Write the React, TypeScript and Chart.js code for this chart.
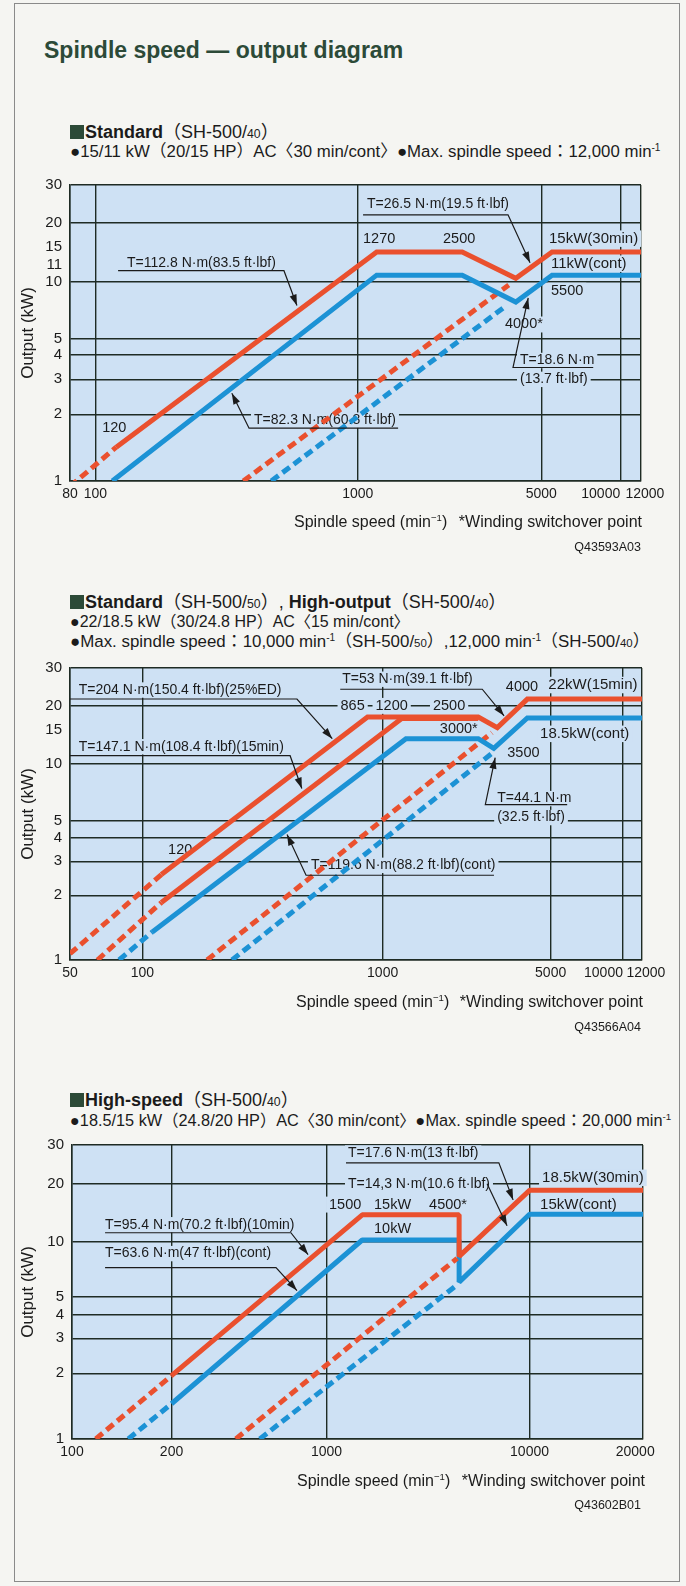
import React, { useEffect, useRef } from 'react';
import { Chart, registerables, LogarithmicScale } from 'chart.js';

Chart.register(...registerables);

type Pt = [number, number];

// ---------------- styling constants ----------------
const FONT = "'Liberation Sans', Arial, sans-serif";
const CFONT = "'Liberation Sans', 'Noto Sans CJK JP', Arial, sans-serif";
const RED = 'rgb(234, 80, 46)';
const BLUE = 'rgb(28, 146, 213)';
const PLOT_BG = 'rgb(206, 225, 244)';
const GRID = '#1e2b24';
const INK = '#1b1b1b';
const PAGE_BG = '#f5f5f2';
const HEAD_GREEN = '#2c4a38';

// ---------------- Chart 1 data: Standard (SH-500/40) ----------------
const C1_X_TICKS = [80, 100, 1000, 5000, 10000, 12000];
const C1_X_GRID = [80, 100, 1000, 5000, 10000, 12000];
const C1_Y_TICKS = [1, 2, 3, 4, 5, 10, 11, 15, 20, 30];
const C1_Y_GRID = [1, 2, 3, 4, 5, 10, 20, 30];
const C1_RED_LOW_DASH: Pt[] = [[80, 0.945], [120, 1.42]];
const C1_RED_30MIN: Pt[] = [[120, 1.42], [1180, 14.2], [2500, 14.2], [4000, 10.4], [5500, 14.2], [12000, 14.2]];
const C1_RED_HIGH_DASH: Pt[] = [[366, 1], [3760, 9.6]];
const C1_BLUE_CONT: Pt[] = [[116, 1], [1180, 10.8], [2500, 10.8], [4000, 7.8], [5500, 10.8], [12000, 10.8]];
const C1_BLUE_HIGH_DASH: Pt[] = [[468, 1], [3600, 7.3]];

// ---------------- Chart 2 data: Standard (SH-500/50), High-output (SH-500/40) ----------------
const C2_X_TICKS = [50, 100, 1000, 5000, 10000, 12000];
const C2_X_GRID = [50, 100, 1000, 5000, 10000, 12000];
const C2_Y_TICKS = [1, 2, 3, 4, 5, 10, 15, 20, 30];
const C2_Y_GRID = [1, 2, 3, 4, 5, 10, 20, 30];
const C2_RED_ED_DASH: Pt[] = [[50, 1.07], [120, 2.56]];
const C2_RED_ED: Pt[] = [[120, 2.56], [865, 17.5], [2500, 17.5], [3000, 15.4], [4000, 21.5], [12000, 21.5]];
const C2_RED_15MIN_DASH: Pt[] = [[65, 1], [120, 1.85]];
const C2_RED_15MIN: Pt[] = [[120, 1.85], [1200, 17.2], [2500, 17.2]];
const C2_RED_HIGH_DASH: Pt[] = [[186, 1], [2850, 14.5]];
const C2_BLUE_DASH: Pt[] = [[80, 1], [110, 1.35]];
const C2_BLUE_CONT: Pt[] = [[110, 1.35], [1250, 13.5], [2500, 13.5], [2900, 12], [4000, 17.3], [12000, 17.3]];
const C2_BLUE_HIGH_DASH: Pt[] = [[236, 1], [2870, 11.4]];

// ---------------- Chart 3 data: High-speed (SH-500/40) ----------------
const C3_X_TICKS = [100, 200, 1000, 10000, 20000];
const C3_X_GRID = [100, 200, 1000, 10000, 20000];
const C3_Y_TICKS = [1, 2, 3, 4, 5, 10, 20, 30];
const C3_Y_GRID = [1, 2, 3, 4, 5, 10, 20, 30];
const C3_RED_DASH: Pt[] = [[118, 1], [200, 1.95]];
const C3_RED_10MIN: Pt[] = [[200, 1.95], [1500, 13.8], [4500, 13.8], [4500, 8.3], [10000, 18.5], [20000, 18.5]];
const C3_RED_HIGH_DASH: Pt[] = [[390, 1], [4400, 8.1]];
const C3_BLUE_DASH: Pt[] = [[148, 1], [200, 1.45]];
const C3_BLUE_CONT: Pt[] = [[200, 1.45], [1500, 10.2], [4500, 10.2], [4500, 6.0], [10000, 13.9], [20000, 13.9]];
const C3_BLUE_HIGH_DASH: Pt[] = [[500, 1], [4400, 5.8]];

// The printed diagrams are hand-drawn: their grid lines are not evenly spaced in log terms.
// Each warp lists grid values and their relative position along the axis (0 = start, 1 = end).
const WARPS: Record<string, { values: number[]; fractions: number[] }> = {
  c1y: { values: [1, 2, 3, 4, 5, 10, 20, 30], fractions: [0, 0.2256, 0.3434, 0.4276, 0.4815, 0.6734, 0.8721, 1] },
  c2y: { values: [1, 2, 3, 4, 5, 10, 20, 30], fractions: [0, 0.2218, 0.3379, 0.4198, 0.4778, 0.6724, 0.8703, 1] },
  c3y: { values: [1, 2, 3, 4, 5, 10, 20, 30], fractions: [0, 0.2237, 0.3424, 0.4237, 0.4847, 0.6712, 0.8678, 1] },
  c3x: { values: [100, 200, 1000, 10000, 20000], fractions: [0, 0.1743, 0.4457, 0.8013, 1] },
};

class WarpLogScale extends LogarithmicScale {
  static id = 'warplog';
  static defaults = LogarithmicScale.defaults;
  _warp() {
    return WARPS[(this as any).options.warpKey];
  }
  getPixelForValue(value: any) {
    const w = this._warp();
    if (!w) return super.getPixelForValue(value);
    if (value === undefined || value === 0) value = (this as any).min;
    if (value === null || isNaN(value)) return NaN;
    const lv = Math.log10(value);
    const lvs = w.values.map((v) => Math.log10(v));
    let i = 0;
    while (i < lvs.length - 2 && lv > lvs[i + 1]) i++;
    const t = (lv - lvs[i]) / (lvs[i + 1] - lvs[i]);
    return (this as any).getPixelForDecimal(w.fractions[i] + t * (w.fractions[i + 1] - w.fractions[i]));
  }
  getValueForPixel(pixel: number) {
    const w = this._warp();
    if (!w) return super.getValueForPixel(pixel);
    const d = (this as any).getDecimalForPixel(pixel);
    const f = w.fractions;
    let i = 0;
    while (i < f.length - 2 && d > f[i + 1]) i++;
    const a = Math.log10(w.values[i]);
    const b = Math.log10(w.values[i + 1]);
    return Math.pow(10, a + ((d - f[i]) / (f[i + 1] - f[i])) * (b - a));
  }
}
Chart.register(WarpLogScale as any);

// ---------------- annotations (in data coordinates: speed, kW) ----------------
type TextAnn = { t: string; x: number; y: number; align?: 'left' | 'center' | 'right'; size?: number };
type Leader = Pt[];

const C1_TEXTS: TextAnn[] = [
  { t: 'T=26.5 N·m(19.5 ft·lbf)', x: 1084, y: 24.5 },
  { t: '1270', x: 1047, y: 16.6, size: 14.5 },
  { t: '2500', x: 2112, y: 16.6, size: 14.5 },
  { t: '15kW(30min)', x: 5352, y: 16.6, size: 15 },
  { t: '11kW(cont)', x: 5449, y: 12.36, size: 15 },
  { t: '5500', x: 5449, y: 8.96, size: 14.5 },
  { t: '4000*', x: 3638, y: 5.93, size: 14.5 },
  { t: 'T=112.8 N·m(83.5 ft·lbf)', x: 132, y: 12.5 },
  { t: 'T=82.3 N·m(60.8 ft·lbf)', x: 402, y: 1.88 },
  { t: 'T=18.6 N·m', x: 4150, y: 3.73 },
  { t: '(13.7 ft·lbf)', x: 4150, y: 3.0 },
  { t: '120', x: 118, y: 1.73, align: 'center', size: 14.5 },
];
const C1_LEADERS: Leader[] = [
  [[1047, 21.8], [3736, 21.8], [4533, 12.5]],
  [[122, 11.38], [523, 11.38], [586, 7.47]],
  [[1424, 1.73], [385, 1.73], [331, 2.55]],
  [[7890, 3.44], [3904, 3.44], [4460, 8.2]],
];

const C2_TEXTS: TextAnn[] = [
  { t: 'T=204 N·m(150.4 ft·lbf)(25%ED)', x: 54.4, y: 23.7 },
  { t: 'T=147.1 N·m(108.4 ft·lbf)(15min)', x: 54.4, y: 12.25 },
  { t: 'T=53 N·m(39.1 ft·lbf)', x: 679, y: 26.6 },
  { t: '865', x: 750, y: 20, align: 'center', size: 14.5 },
  { t: '1200', x: 1090, y: 20, align: 'center', size: 14.5 },
  { t: '2500', x: 1890, y: 20, align: 'center', size: 14.5 },
  { t: '4000', x: 3800, y: 24.5, align: 'center', size: 14.5 },
  { t: '22kW(15min)', x: 4890, y: 25.0, size: 15 },
  { t: '3000*', x: 1730, y: 15.2, size: 14.5 },
  { t: '18.5kW(cont)', x: 4520, y: 14.3, size: 15 },
  { t: '3500', x: 3300, y: 11.4, size: 14.5 },
  { t: 'T=44.1 N·m', x: 2996, y: 6.53 },
  { t: '(32.5 ft·lbf)', x: 2996, y: 5.18 },
  { t: '120', x: 128, y: 3.42, size: 14.5 },
  { t: 'T=119.6 N·m(88.2 ft·lbf)(cont)', x: 503, y: 2.86 },
];
const C2_LEADERS: Leader[] = [
  [[50, 21.53], [440, 21.53], [617, 13.5]],
  [[50, 11.0], [412, 11.0], [461, 7.38]],
  [[666, 23.9], [2597, 23.9], [3200, 17.75]],
  [[5860, 6.07], [2674, 6.07], [2939, 10.74]],
  [[2905, 2.54], [480, 2.54], [400, 4.16]],
];

const C3_TEXTS: TextAnn[] = [
  { t: 'T=17.6 N·m(13 ft·lbf)', x: 1276, y: 27.6 },
  { t: 'T=14,3 N·m(10.6 ft·lbf)', x: 1276, y: 20 },
  { t: '18.5kW(30min)', x: 10793, y: 21.3, size: 15 },
  { t: '15kW(cont)', x: 10662, y: 15.6, size: 15 },
  { t: '1500', x: 1029, y: 15.6, size: 14.5 },
  { t: '15kW', x: 1714, y: 15.6, size: 14.5 },
  { t: '4500*', x: 3200, y: 15.6, size: 14.5 },
  { t: '10kW', x: 1714, y: 11.7, size: 14.5 },
  { t: 'T=95.4 N·m(70.2 ft·lbf)(10min)', x: 125.9, y: 12.25 },
  { t: 'T=63.6 N·m(47 ft·lbf)(cont)', x: 125.9, y: 8.6 },
];
const C3_LEADERS: Leader[] = [
  [[1247, 24.9], [7060, 24.9], [8300, 16.5]],
  [[6180, 20], [7750, 12.1]],
  [[125.9, 11.13], [691, 11.13], [826, 8.49]],
  [[125.9, 7.2], [592, 7.2], [736, 5.39]],
];

// ---------------- chart specs ----------------
type Series = { pts: Pt[]; color: string; dashed?: boolean };
type Spec = {
  top: number; h: number; plotLeft: number; plotRight: number; plotTop: number; plotBottom: number;
  xMin: number; xMax: number; xTicks: number[]; xGrid: number[]; xType: string; xWarp?: string;
  yTicks: number[]; yGrid: number[]; yWarp: string;
  series: Series[]; texts: TextAnn[]; leaders: Leader[]; join: CanvasLineJoin;
  xLabelPad?: Record<number, [number, number]>; yLabelLift?: number[];
};

const SPEC1: Spec = {
  top: 168, h: 345, plotLeft: 70, plotRight: 641, plotTop: 184, plotBottom: 481,
  xMin: 80, xMax: 12000, xTicks: C1_X_TICKS, xGrid: C1_X_GRID, xType: 'logarithmic',
  yTicks: C1_Y_TICKS, yGrid: C1_Y_GRID, yWarp: 'c1y',
  series: [
    { pts: C1_BLUE_HIGH_DASH, color: BLUE, dashed: true },
    { pts: C1_RED_HIGH_DASH, color: RED, dashed: true },
    { pts: C1_BLUE_CONT, color: BLUE },
    { pts: C1_RED_LOW_DASH, color: RED, dashed: true },
    { pts: C1_RED_30MIN, color: RED },
  ],
  texts: C1_TEXTS, leaders: C1_LEADERS, join: 'miter',
  xLabelPad: { 10000: [0, 5], 12000: [1, 0] }, yLabelLift: [11],
};

const SPEC2: Spec = {
  top: 651, h: 341, plotLeft: 70, plotRight: 642, plotTop: 667, plotBottom: 960,
  xMin: 50, xMax: 12000, xTicks: C2_X_TICKS, xGrid: C2_X_GRID, xType: 'logarithmic',
  yTicks: C2_Y_TICKS, yGrid: C2_Y_GRID, yWarp: 'c2y',
  series: [
    { pts: C2_BLUE_HIGH_DASH, color: BLUE, dashed: true },
    { pts: C2_RED_HIGH_DASH, color: RED, dashed: true },
    { pts: C2_BLUE_DASH, color: BLUE, dashed: true },
    { pts: C2_BLUE_CONT, color: BLUE },
    { pts: C2_RED_15MIN_DASH, color: RED, dashed: true },
    { pts: C2_RED_15MIN, color: RED },
    { pts: C2_RED_ED_DASH, color: RED, dashed: true },
    { pts: C2_RED_ED, color: RED },
  ],
  texts: C2_TEXTS, leaders: C2_LEADERS, join: 'miter',
  xLabelPad: { 10000: [0, 5], 12000: [1, 0] },
};

const SPEC3: Spec = {
  top: 1128, h: 343, plotLeft: 72, plotRight: 643, plotTop: 1144, plotBottom: 1439,
  xMin: 100, xMax: 20000, xTicks: C3_X_TICKS, xGrid: C3_X_GRID, xType: 'warplog', xWarp: 'c3x',
  yTicks: C3_Y_TICKS, yGrid: C3_Y_GRID, yWarp: 'c3y',
  series: [
    { pts: C3_BLUE_HIGH_DASH, color: BLUE, dashed: true },
    { pts: C3_BLUE_DASH, color: BLUE, dashed: true },
    { pts: C3_BLUE_CONT, color: BLUE },
    { pts: C3_RED_HIGH_DASH, color: RED, dashed: true },
    { pts: C3_RED_DASH, color: RED, dashed: true },
    { pts: C3_RED_10MIN, color: RED },
  ],
  texts: C3_TEXTS, leaders: C3_LEADERS, join: 'bevel',
  xLabelPad: { 20000: [0, 2] },
};

// ---------------- plugins ----------------
const bgPlugin = {
  id: 'plotbg',
  beforeDraw(chart: any) {
    const { ctx, chartArea: a } = chart;
    ctx.save();
    ctx.fillStyle = PLOT_BG;
    ctx.fillRect(a.left, a.top, a.right - a.left, a.bottom - a.top);
    ctx.restore();
  },
};

function annotPlugin(texts: TextAnn[], leaders: Leader[]) {
  return {
    id: 'annot',
    beforeDatasetsDraw(chart: any) {
      const { ctx } = chart;
      const xs = chart.scales.x;
      const ys = chart.scales.y;
      ctx.save();
      for (const a of texts) {
        const size = a.size ?? 14;
        ctx.font = `${size}px ${FONT}`;
        const w = ctx.measureText(a.t).width;
        const px = xs.getPixelForValue(a.x);
        const py = ys.getPixelForValue(a.y);
        const align = a.align ?? 'left';
        const left = align === 'left' ? px : align === 'center' ? px - w / 2 : px - w;
        ctx.fillStyle = PLOT_BG;
        ctx.fillRect(left - 3, py - size * 0.55, w + 6, size * 1.1);
        ctx.fillStyle = INK;
        ctx.textAlign = 'left';
        ctx.textBaseline = 'middle';
        ctx.fillText(a.t, left, py);
      }
      ctx.restore();
    },
    afterDatasetsDraw(chart: any) {
      const { ctx } = chart;
      const xs = chart.scales.x;
      const ys = chart.scales.y;
      ctx.save();
      ctx.strokeStyle = INK;
      ctx.fillStyle = INK;
      ctx.lineWidth = 1.2;
      for (const pts of leaders) {
        const pp = pts.map(([x, y]) => [xs.getPixelForValue(x), ys.getPixelForValue(y)]);
        ctx.beginPath();
        pp.forEach(([x, y], i) => (i ? ctx.lineTo(x, y) : ctx.moveTo(x, y)));
        ctx.stroke();
        const [x1, y1] = pp[pp.length - 2];
        const [x2, y2] = pp[pp.length - 1];
        const ang = Math.atan2(y2 - y1, x2 - x1);
        const L = 11;
        const W = 3.6;
        const c = Math.cos(ang);
        const s = Math.sin(ang);
        ctx.beginPath();
        ctx.moveTo(x2, y2);
        ctx.lineTo(x2 - L * c + W * s, y2 - L * s - W * c);
        ctx.lineTo(x2 - L * c - W * s, y2 - L * s + W * c);
        ctx.closePath();
        ctx.fill();
      }
      ctx.restore();
    },
  };
}

function buildConfig(s: Spec): any {
  const n = s.series.length;
  const datasets = s.series.map((se, i) => ({
    data: se.pts.map(([x, y]) => ({ x, y })),
    borderColor: se.color,
    backgroundColor: se.color,
    borderWidth: 5,
    borderDash: se.dashed ? [9, 5] : [],
    borderCapStyle: 'butt',
    borderJoinStyle: s.join,
    pointRadius: 0,
    tension: 0,
    fill: false,
    clip: 0,
    order: n - i,
  }));
  const fig = '\u2007';
  return {
    type: 'line',
    data: { datasets },
    options: {
      animation: false,
      responsive: false,
      maintainAspectRatio: false,
      devicePixelRatio: 1,
      events: [],
      layout: { padding: { left: 0, right: 686 - s.plotRight, top: s.plotTop - s.top, bottom: 0 } },
      plugins: { legend: { display: false }, tooltip: { enabled: false }, title: { display: false } },
      scales: {
        x: {
          type: s.xType,
          warpKey: s.xWarp,
          min: s.xMin,
          max: s.xMax,
          afterBuildTicks: (sc: any) => {
            sc.ticks = s.xTicks.map((v) => ({ value: v }));
          },
          afterFit: (sc: any) => {
            sc.height = s.h - (s.plotBottom - s.top);
          },
          grid: {
            color: (c: any) => (c.tick && s.xGrid.includes(c.tick.value) ? GRID : 'rgba(0,0,0,0)'),
            lineWidth: 1.4,
            drawTicks: false,
          },
          border: { display: true, color: GRID, width: 1.5 },
          ticks: {
            autoSkip: false,
            maxRotation: 0,
            minRotation: 0,
            padding: 5,
            color: INK,
            font: { family: FONT, size: 14 },
            callback: (v: number) => {
              const p = (s.xLabelPad && s.xLabelPad[v]) || [0, 0];
              return fig.repeat(p[0]) + String(v) + fig.repeat(p[1]);
            },
          },
        },
        y: {
          type: 'warplog',
          warpKey: s.yWarp,
          min: 1,
          max: 30,
          afterBuildTicks: (sc: any) => {
            sc.ticks = s.yTicks.map((v) => ({ value: v }));
          },
          afterFit: (sc: any) => {
            sc.width = s.plotLeft;
          },
          grid: {
            color: (c: any) => (c.tick && s.yGrid.includes(c.tick.value) ? GRID : 'rgba(0,0,0,0)'),
            lineWidth: 1.4,
            drawTicks: false,
          },
          border: { display: true, color: GRID, width: 1.5 },
          ticks: {
            autoSkip: false,
            padding: 8,
            color: INK,
            font: { family: FONT, size: 15 },
            callback: (v: number) => (s.yLabelLift && s.yLabelLift.includes(v) ? [String(v), ''] : String(v)),
          },
          title: {
            display: true,
            text: 'Output (kW)',
            color: INK,
            font: { family: FONT, size: 17 },
            padding: { top: 18, bottom: 0 },
          },
        },
      },
    },
    plugins: [bgPlugin, annotPlugin(s.texts, s.leaders)],
  };
}

function ChartBlock({ spec }: { spec: Spec }) {
  const ref = useRef<HTMLCanvasElement | null>(null);
  useEffect(() => {
    if (!ref.current) return;
    const chart = new Chart(ref.current, buildConfig(spec));
    return () => chart.destroy();
  }, [spec]);
  return (
    <canvas
      ref={ref}
      width={686}
      height={spec.h}
      style={{ position: 'absolute', left: 0, top: spec.top, width: 686, height: spec.h }}
    />
  );
}

// ---------------- HTML text helpers ----------------
function Txt(props: {
  x?: number; right?: number; cy: number; size: number; bold?: boolean; color?: string; ls?: number; children: any;
}) {
  const lh = Math.round(props.size * 1.3);
  const style: any = {
    position: 'absolute',
    top: props.cy - lh / 2,
    lineHeight: lh + 'px',
    fontSize: props.size,
    whiteSpace: 'nowrap',
    color: props.color ?? INK,
    fontFamily: CFONT,
    fontWeight: props.bold ? 700 : 400,
    letterSpacing: props.ls ? props.ls + 'px' : undefined,
  };
  if (props.right !== undefined) style.right = 686 - props.right;
  else style.left = props.x;
  return <div style={style}>{props.children}</div>;
}

const Sq = () => (
  <span
    style={{ display: 'inline-block', width: 14, height: 14, background: HEAD_GREEN, marginRight: 1, position: 'relative', top: 1 }}
  />
);
const Small = ({ children }: { children: any }) => <span style={{ fontSize: '0.68em' }}>{children}</span>;
const Sup = ({ t = '-1' }: { t?: string }) => (
  <span style={{ fontSize: '0.6em', position: 'relative', top: '-0.6em' }}>{t}</span>
);

function Footer({ cy, codeCy, spindleX, windRight, code }: { cy: number; codeCy: number; spindleX: number; windRight: number; code: string }) {
  return (
    <>
      <Txt x={spindleX} cy={cy} size={16}>
        Spindle speed (min<Sup t="−1" />)
      </Txt>
      <Txt right={windRight} cy={cy} size={16}>*Winding switchover point</Txt>
      <Txt right={641} cy={codeCy} size={12.5}>{code}</Txt>
    </>
  );
}

export default function App() {
  return (
    <div
      style={{ position: 'relative', width: 686, height: 1586, background: PAGE_BG, overflow: 'hidden', fontFamily: CFONT, color: INK }}
    >
      <style>{`html,body{margin:0;padding:0;background:${PAGE_BG};}`}</style>
      <div
        style={{ position: 'absolute', left: 14, top: 3, width: 666, height: 1579, border: '1px solid #8a8a8a', boxSizing: 'border-box' }}
      />
      <Txt x={44} cy={50} size={23} bold color={HEAD_GREEN}>Spindle speed — output diagram</Txt>

      {/* Chart 1 header */}
      <Txt x={70} cy={132} size={18}>
        <Sq /><b>Standard</b>（SH-500/<Small>40</Small>）
      </Txt>
      <Txt x={70} cy={152} size={16.8}>
        ●15/11 kW（20/15 HP）AC〈30 min/cont〉●Max. spindle speed：12,000 min<Sup />
      </Txt>
      <ChartBlock spec={SPEC1} />
      <Footer cy={521} codeCy={547} spindleX={294} windRight={642} code="Q43593A03" />

      {/* Chart 2 header */}
      <Txt x={70} cy={602} size={18}>
        <Sq /><b>Standard</b>（SH-500/<Small>50</Small>）, <b>High-output</b>（SH-500/<Small>40</Small>）
      </Txt>
      <Txt x={70} cy={621} size={16}>●22/18.5 kW（30/24.8 HP）AC〈15 min/cont〉</Txt>
      <Txt x={70} cy={642} size={16.9}>
        ●Max. spindle speed：10,000 min<Sup />（SH-500/<Small>50</Small>）,12,000 min<Sup />（SH-500/<Small>40</Small>）
      </Txt>
      <ChartBlock spec={SPEC2} />
      <Footer cy={1001} codeCy={1027} spindleX={296} windRight={643} code="Q43566A04" />

      {/* Chart 3 header */}
      <Txt x={70} cy={1100} size={18}>
        <Sq /><b>High-speed</b>（SH-500/<Small>40</Small>）
      </Txt>
      <Txt x={70} cy={1120} size={16.3}>
        ●18.5/15 kW（24.8/20 HP）AC〈30 min/cont〉●Max. spindle speed：20,000 min<Sup />
      </Txt>
      <ChartBlock spec={SPEC3} />
      <Footer cy={1480} codeCy={1505} spindleX={297} windRight={645} code="Q43602B01" />
    </div>
  );
}
